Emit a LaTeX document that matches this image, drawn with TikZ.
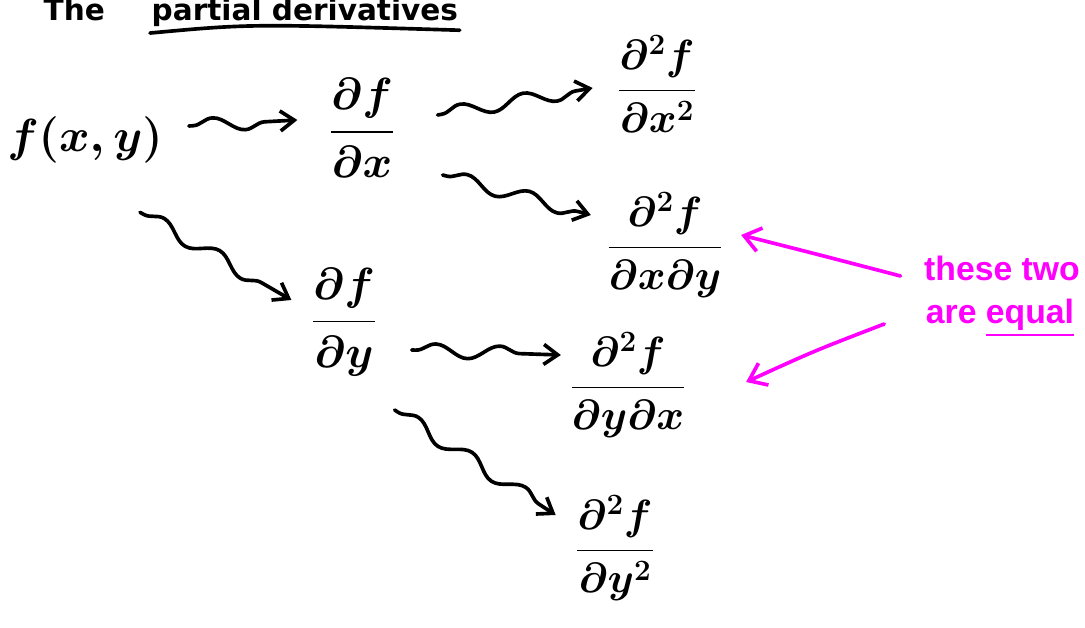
\RequirePackage{fix-cm}
\documentclass[tikz,border=0pt]{standalone}
\usepackage{amsmath}
\usepackage{fontspec}
\usepackage{tikz}
\usetikzlibrary{arrows.meta, decorations.pathmorphing}
\setsansfont{Liberation Sans}
\newfontfamily\headfont{DejaVu Sans}
\definecolor{inkpink}{RGB}{255,0,255}

\begin{document}
\begin{tikzpicture}[x=0.025cm,y=-0.025cm,
  ink/.style={line width=2.6pt, line cap=round, line join=round},
  wavy/.style={ink, -{Straight Barb[length=3.5mm, width=5mm, line width=2.6pt]},
    decorate, decoration={snake, amplitude=1.7mm, segment length=16mm,
      pre length=1mm, post length=3mm}},
  hint/.style={ink, inkpink, -{Straight Barb[length=4mm, width=6mm, line width=2.6pt]}},
  big/.style={inner sep=2pt, font=\boldmath\fontsize{33}{38}\selectfont},
  frac/.style={inner sep=2pt, font=\boldmath\fontsize{32}{38}\selectfont},
  frac2/.style={inner sep=2pt, font=\boldmath\fontsize{30}{36}\selectfont},
  head/.style={anchor=base west, inner sep=1pt, font=\headfont\bfseries\fontsize{21}{24}\selectfont},
  note/.style={inkpink, inner sep=1pt, font=\sffamily\bfseries\fontsize{24}{28}\selectfont}]
  \useasboundingbox (0,0) rectangle (1085,628);
  % heading at the top edge
  \node[head] (headA) at (42,21) {The};
  \node[head] (headB) at (150,21) {partial derivatives};
  \draw[ink] ([yshift=-3]headB.south west) .. controls ([shift={(100,-5)}]headB.south west) .. ([yshift=-1]headB.south east);
  % function and first derivatives
  \node[big] (fxy) at (85,140) {$f(x,y)$};
  \node[frac] (fx) at (362,128) {$\dfrac{\partial f}{\partial x}$};
  \node[frac] (fy) at (344,322) {$\dfrac{\partial f}{\partial y}$};
  % second derivatives
  \node[frac2] (fxx) at (657,84) {$\dfrac{\partial^2 f}{\partial x^2}$};
  \node[frac2] (fxy2) at (665,245) {$\dfrac{\partial^2 f}{\partial x\partial y}$};
  \node[frac2] (fyx) at (628,385) {$\dfrac{\partial^2 f}{\partial y\partial x}$};
  \node[frac2] (fyy) at (615,548) {$\dfrac{\partial^2 f}{\partial y^2}$};
  % squiggly arrows
  \draw[wavy] ([shift={(23,-14)}]fxy.east) -- ([shift={(-29,-8)}]fx.west);
  \draw[wavy] ([shift={(40,-13)}]fx.east) -- ([shift={(-22,4)}]fxx.west);
  \draw[wavy] ([shift={(45,47)}]fx.east) -- ([shift={(-13,-30)}]fxy2.west);
  \draw[wavy] ([shift={(55,46)}]fxy.south) -- ([shift={(-17,-22)}]fy.west);
  \draw[wavy] ([shift={(32,28)}]fy.east) -- ([shift={(-6,-30)}]fyx.west);
  \draw[wavy] ([shift={(15,88)}]fy.east) -- ([shift={(-17,-33)}]fyy.west);
  % pink remark
  \node[note] (these) at (1002,268) {these two};
  \node[note] (equal) at (1000,318) {are \underline{equal}};
  \draw[hint] ([shift={(-22,8)}]these.west) .. controls (820,255) .. ([shift={(15,-10)}]fxy2.east);
  \draw[hint] ([shift={(-40,6)}]equal.west) .. controls (814,351) .. ([shift={(57,-3)}]fyx.east);
\end{tikzpicture}
\end{document}
